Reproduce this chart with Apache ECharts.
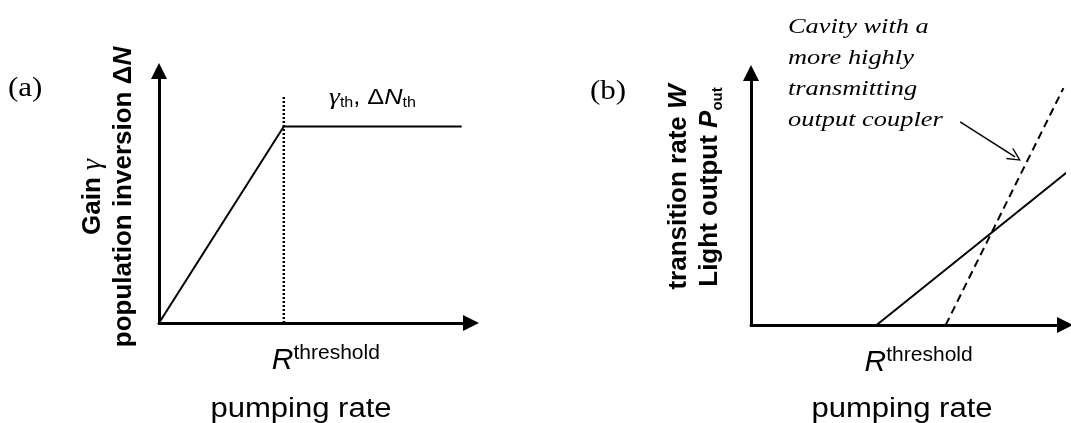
<!DOCTYPE html>
<html>
<head>
<meta charset="utf-8">
<script src="https://cdn.jsdelivr.net/npm/echarts@6/dist/echarts.min.js"></script>
<style>
html,body{margin:0;padding:0;background:#fff;}
#chart{width:1071px;height:423px;}
</style>
</head>
<body>
<div id="chart"></div>
<script>
// ---- data ----
const gainA = [[0, 0], [4, 7.8], [9.7, 7.8]];           // panel (a) gain / inversion
const thresholdA = 4;
const thresholdLineA = [[4, 0], [4, 9]];                   // dotted threshold marker
const outputB = [[4, 0], [10.5, 6.5]];                     // panel (b) solid output line
const thresholdB = 4;
const couplerB = [[6.2, 0], [9.95, 9.4]];                   // dashed: more transmitting coupler
const arrowB = [[6.66, 8.06], [8.41, 6.67]];                // annotation arrow
const xTitle = 'pumping rate';
const annotationText = 'Cavity with a\nmore highly\ntransmitting\noutput coupler';

const SANS = "'Liberation Sans', Arial, sans-serif";
const SERIF = "'Liberation Serif', 'Times New Roman', serif";
const triPath = 'path://M50,0 L100,100 L0,100 Z';
const chevron = 'path://M50,0 L100,90 L92,97 L50,20 L8,97 L0,90 Z';

function axisLineCfg() {
  return {
    show: true, onZero: false,
    symbol: ['none', triPath],
    symbolSize: [16, 16],
    lineStyle: { color: '#000', width: 3 }
  };
}
function baseAxis(grid, extra) {
  return Object.assign({
    type: 'value', gridIndex: grid, min: 0, max: 10,
    axisLine: axisLineCfg(),
    axisTick: { show: false }, axisLabel: { show: false }, splitLine: { show: false }
  }, extra || {});
}
const yRich = {
  b: { fontFamily: SANS, fontSize: 26, fontWeight: 'bold', color: '#000', lineHeight: 31 },
  bi: { fontFamily: SANS, fontSize: 26, fontWeight: 'bold', fontStyle: 'italic', color: '#000', lineHeight: 31 },
  g: { fontFamily: SERIF, fontSize: 28, fontStyle: 'italic', color: '#000', lineHeight: 31 },
  sub: { fontFamily: SANS, fontSize: 15, fontWeight: 'bold', color: '#000', lineHeight: 15, verticalAlign: 'bottom' }
};
const rLabel = {
  show: true, position: 'bottom', align: 'left', offset: [-12, 18],
  formatter: '{r|R}{s|threshold}',
  rich: {
    r: { fontFamily: SANS, fontSize: 30, fontStyle: 'italic', color: '#000', lineHeight: 30, verticalAlign: 'bottom' },
    s: { fontFamily: SANS, fontSize: 21, color: '#000', lineHeight: 21, padding: [0, 0, 15, 0] }
  }
};

const chart = echarts.init(document.getElementById('chart'), null, { renderer: 'canvas' });
chart.setOption({
  animation: false,
  backgroundColor: '#fff',
  grid: [
    { left: 159, top: 71, width: 312, height: 252 },
    { left: 751, top: 73, width: 314, height: 252 }
  ],
  xAxis: [baseAxis(0), baseAxis(1)],
  yAxis: [
    baseAxis(0, {
      name: '{b|Gain }{g|γ}\n{b|population inversion Δ}{bi|N}',
      nameLocation: 'middle', nameRotate: 90, nameGap: 20,
      nameTextStyle: { color: '#000', lineHeight: 31, rich: yRich }
    }),
    baseAxis(1, {
      name: '{b|transition rate }{bi|W}\n{b|Light output }{bi|P}{sub|out}',
      nameLocation: 'middle', nameRotate: 90, nameGap: 26,
      nameTextStyle: { color: '#000', lineHeight: 31, padding: [0, 0, 0, 24], rich: yRich }
    })
  ],
  series: [
    { type: 'line', xAxisIndex: 0, yAxisIndex: 0, data: gainA, symbol: 'none',
      lineStyle: { color: '#000', width: 2 } },
    { type: 'line', xAxisIndex: 0, yAxisIndex: 0, data: thresholdLineA, symbol: 'none',
      lineStyle: { color: '#000', width: 2.5, type: [2, 2] },
      markPoint: { symbol: 'circle', symbolSize: 0, silent: true,
        data: [{ coord: [thresholdA, 0] }], label: rLabel } },
    { type: 'line', xAxisIndex: 1, yAxisIndex: 1, data: outputB, symbol: 'none', clip: false,
      lineStyle: { color: '#000', width: 2 },
      markPoint: { symbol: 'circle', symbolSize: 0, silent: true,
        data: [{ coord: [thresholdB, 0] }], label: rLabel } },
    { type: 'line', xAxisIndex: 1, yAxisIndex: 1, data: couplerB, symbol: 'none', clip: false,
      lineStyle: { color: '#000', width: 2, type: [8, 5] },
      markLine: { silent: true, symbol: ['none', chevron], symbolSize: [13, 14],
        label: { show: false },
        lineStyle: { color: '#000', width: 1.5, type: 'solid' },
        data: [[{ coord: arrowB[0] }, { coord: arrowB[1] }]] } }
  ],
  graphic: [
    { type: 'text', x: 8, y: 89, scaleX: 1.15,
      style: { text: '(a)', fontFamily: SERIF, fontSize: 27, fill: '#000', verticalAlign: 'middle' } },
    { type: 'text', x: 590, y: 92, scaleX: 1.15,
      style: { text: '(b)', fontFamily: SERIF, fontSize: 27, fill: '#000', verticalAlign: 'middle' } },
    { type: 'text', x: 329, y: 86, scaleX: 1.15,
      style: { text: '{g|γ}{s|th}{n|, Δ}{ni|N}{s|th}', verticalAlign: 'top',
        rich: {
          g: { fontFamily: SERIF, fontSize: 24, fontStyle: 'italic', fill: '#000', lineHeight: 24 },
          n: { fontFamily: SANS, fontSize: 22, fill: '#000', lineHeight: 24 },
          ni: { fontFamily: SANS, fontSize: 22, fontStyle: 'italic', fill: '#000', lineHeight: 24 },
          s: { fontFamily: SANS, fontSize: 14, fill: '#000', lineHeight: 14, verticalAlign: 'bottom' }
        } } },
    { type: 'text', x: 788, y: 12, scaleX: 1.2,
      style: { text: annotationText, fontFamily: SERIF, fontSize: 22, fontStyle: 'italic',
        lineHeight: 31, fill: '#000', verticalAlign: 'top' } },
    { type: 'text', x: 301, y: 410, scaleX: 1.15,
      style: { text: xTitle, fontFamily: SANS, fontSize: 27, fill: '#000', align: 'center', verticalAlign: 'middle' } },
    { type: 'text', x: 902, y: 410, scaleX: 1.15,
      style: { text: xTitle, fontFamily: SANS, fontSize: 27, fill: '#000', align: 'center', verticalAlign: 'middle' } }
  ]
});
</script>
</body>
</html>
